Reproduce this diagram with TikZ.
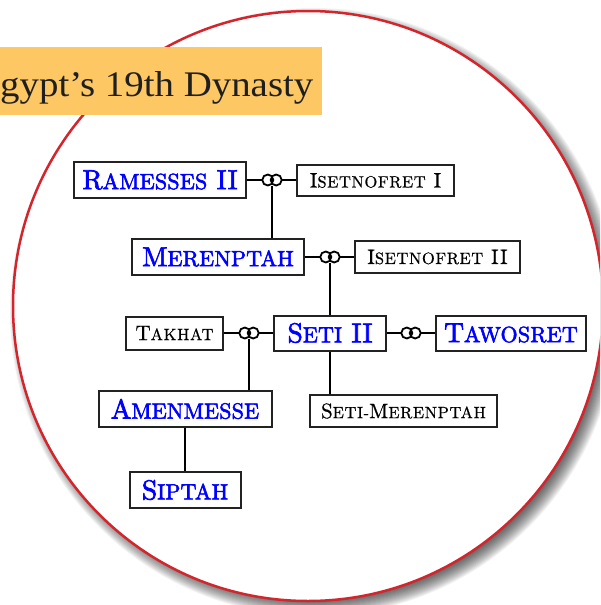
\documentclass[tikz,border=0pt]{standalone}
\usepackage{fontspec}
\newfontfamily\titlefont{Liberation Serif}
\newfontfamily\royalfont{lmroman10-regular.otf}[AutoFakeBold=2.5,LetterSpace=1]
\newfontfamily\otherfont{lmroman10-regular.otf}[AutoFakeBold=0.6,LetterSpace=4]
\newcommand\rl[1]{{\fontsize{22}{22}\selectfont #1}}
\newcommand\ol[1]{{\fontsize{16.4}{16.4}\selectfont #1}}
\definecolor{ttl}{RGB}{253,200,100}
\definecolor{rim}{RGB}{212,36,44}
\definecolor{bd}{RGB}{34,34,34}
\begin{document}
\begin{tikzpicture}[x=1pt,y=-1pt,
  kin/.style={draw=bd, line width=2pt, fill=white, inner sep=0pt},
  royal/.style={kin, text=blue, font=\royalfont\bfseries\fontsize{27.5}{27.5}\selectfont},
  other/.style={kin, text=black, font=\otherfont\bfseries\fontsize{21}{21}\selectfont},
  ring/.style={inner sep=0pt, minimum width=20pt, minimum height=11pt},
  ln/.style={line width=2pt, black}]
\useasboundingbox (0,0) rectangle (600,605);
\clip (0,0) rectangle (600,605);
% shadow
\foreach \i in {0,...,15}
  \fill[black, opacity=0.05] (314,312) circle ({289+\i*1.0 pt});
% disc
\draw[rim, line width=2.5pt, fill=white] (308,306) circle (295pt);
% title
\fill[ttl] (0,47) rectangle (322,115);
\node[anchor=base west, inner sep=0pt, text=black!88, font=\titlefont\fontsize{36}{36}\selectfont] (title) at (0,96) {\scalebox{1.08}[1]{gypt’s 19th Dynasty}};
% people
\node[royal, minimum width=172pt, minimum height=36pt] (ram) at (160,180) {R\rl{AMESSES} II};
\node[other, minimum width=157pt, minimum height=31pt] (ise1) at (375.5,180.5) {I\ol{SETNOFRET} I};
\node[royal, minimum width=172pt, minimum height=36pt] (mer) at (218,257) {M\rl{ERENPTAH}};
\node[other, minimum width=165pt, minimum height=32pt] (ise2) at (437.5,257) {I\ol{SETNOFRET} II};
\node[other, minimum width=97pt, minimum height=33pt] (tak) at (174.5,333) {T\ol{AKHAT}};
\node[royal, minimum width=112pt, minimum height=35pt] (seti) at (330,333) {S\rl{ETI} II};
\node[royal, minimum width=150pt, minimum height=35pt] (taw) at (511,333) {T\rl{AWOSRET}};
\node[royal, minimum width=173pt, minimum height=36pt] (ame) at (185,409) {A\rl{MENMESSE}};
\node[other, minimum width=187pt, minimum height=32pt] (sm) at (403.5,411) {S\ol{ETI-}M\ol{ERENPTAH}};
\node[royal, minimum width=111pt, minimum height=36pt] (sip) at (185,490) {S\rl{IPTAH}};
% marriage rings
\node[ring] (m1) at (272,180) {};
\node[ring] (m2) at (330,257) {};
\node[ring] (m3) at (249,333) {};
\node[ring] (m4) at (411,333) {};
\foreach \m in {m1,m2,m3,m4}
  \draw[line width=1.8pt] ([xshift=-4.2pt]\m.center) circle (5.5pt) ([xshift=4.2pt]\m.center) circle (5.5pt);
% connectors
\draw[ln] (ram.east |- m1) -- (m1.west);
\draw[ln] (m1.east) -- (ise1.west |- m1);
\draw[ln] (m1.south) -- (m1.south |- mer.north);
\draw[ln] (mer.east |- m2) -- (m2.west);
\draw[ln] (m2.east) -- (ise2.west |- m2);
\draw[ln] (m2.south) -- (m2.south |- seti.north);
\draw[ln] (tak.east |- m3) -- (m3.west);
\draw[ln] (m3.east) -- (seti.west |- m3);
\draw[ln] (m3.south) -- (m3.south |- ame.north);
\draw[ln] (seti.east |- m4) -- (m4.west);
\draw[ln] (m4.east) -- (taw.west |- m4);
\draw[ln] (seti.south) -- (sm.north -| seti.south);
\draw[ln] (ame.south) -- (sip.north);
\end{tikzpicture}
\end{document}
